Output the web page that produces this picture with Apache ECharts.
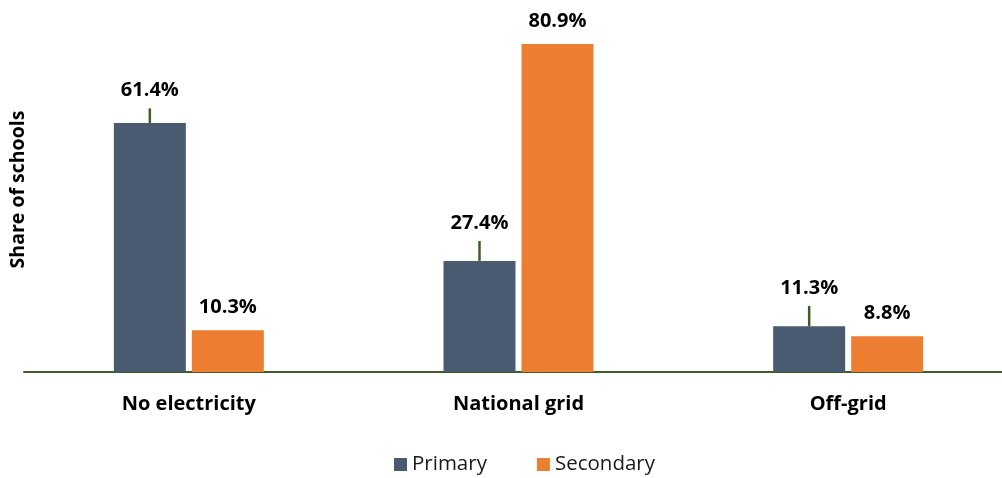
<!DOCTYPE html>
<html>
<head>
<meta charset="utf-8">
<script src="https://cdn.jsdelivr.net/npm/echarts@6/dist/echarts.min.js"></script>
<style>
html,body{margin:0;padding:0;background:#fff;overflow:hidden;width:1002px;height:478px;}
#c{width:1013px;height:478px;}
</style>
</head>
<body>
<div id="c"></div>
<script>
const categories = ['No electricity', 'National grid', 'Off-grid'];
const primaryValues = [61.4, 27.4, 11.3];
const primaryErrors = [3.6, 4.9, 5.0];
const secondaryValues = [10.3, 80.9, 8.8];
const seriesNames = ['Primary', 'Secondary'];

const FONT = '"Open Sans", "DejaVu Sans", sans-serif';
const BAR_W = 72;
const BAR_GAP_PX = 6;
const PRIMARY_COLOR = '#4a5a71';
const SECONDARY_COLOR = '#ed7d31';
const GREEN = '#3c5e27';

const chart = echarts.init(document.getElementById('c'), null, {renderer: 'canvas'});

const errData = primaryValues.map((v, i) => [i, v, primaryErrors[i]]);

const option = {
  animation: false,
  backgroundColor: '#ffffff',
  textStyle: {fontFamily: FONT},
  grid: {left: 23, right: 0, top: 7, height: 365, containLabel: false},
  legend: {
    data: seriesNames,
    left: 394,
    top: 454,
    padding: 0,
    itemWidth: 13,
    itemHeight: 13,
    itemGap: 50,
    icon: 'rect',
    textStyle: {fontFamily: FONT, fontSize: 20.5, color: '#1a1a1a'}
  },
  xAxis: {
    type: 'category',
    data: categories,
    axisLine: {show: true, lineStyle: {color: GREEN, width: 2}},
    axisTick: {show: false},
    axisLabel: {fontFamily: FONT, fontSize: 20, fontWeight: 'bold', color: '#000', margin: 22}
  },
  yAxis: {
    type: 'value',
    min: 0,
    max: 90,
    name: 'Share of schools',
    nameLocation: 'middle',
    nameRotate: 90,
    nameGap: -4,
    nameTextStyle: {fontFamily: FONT, fontSize: 19.5, fontWeight: 'bold', color: '#000', padding: [0, 0, 0, 0]},
    axisLine: {show: false},
    axisTick: {show: false},
    axisLabel: {show: false},
    splitLine: {show: false}
  },
  series: [
    {
      name: 'Primary',
      type: 'bar',
      data: primaryValues,
      barWidth: BAR_W,
      barGap: (BAR_GAP_PX / BAR_W * 100) + '%',
      itemStyle: {color: PRIMARY_COLOR},
      label: {show: false}
    },
    {
      name: 'Secondary',
      type: 'bar',
      data: secondaryValues,
      barWidth: BAR_W,
      itemStyle: {color: SECONDARY_COLOR},
      label: {
        show: true,
        position: 'top',
        distance: 13,
        formatter: p => p.value.toFixed(1) + '%',
        fontFamily: FONT, fontSize: 20, fontWeight: 'bold', color: '#000'
      }
    },
    {
      name: 'err',
      type: 'custom',
      data: errData,
      encode: {x: 0, y: 1},
      z: 5,
      renderItem: function (params, api) {
        const i = api.value(0);
        const v = api.value(1);
        const e = api.value(2);
        const off = -(BAR_W / 2 + BAR_GAP_PX / 2);
        const p0 = api.coord([i, v]);
        const p1 = api.coord([i, v + e]);
        const x = p0[0] + off;
        return {
          type: 'group',
          children: [
            {
              type: 'line',
              shape: {x1: x, y1: p0[1], x2: x, y2: p1[1]},
              style: {stroke: GREEN, lineWidth: 2.5}
            },
            {
              type: 'text',
              x: x,
              y: p1[1] - 18,
              style: {
                text: v.toFixed(1) + '%',
                font: 'bold 20px ' + FONT,
                fill: '#000',
                align: 'center',
                verticalAlign: 'middle'
              }
            }
          ]
        };
      }
    }
  ]
};
chart.setOption(option);
</script>
</body>
</html>
